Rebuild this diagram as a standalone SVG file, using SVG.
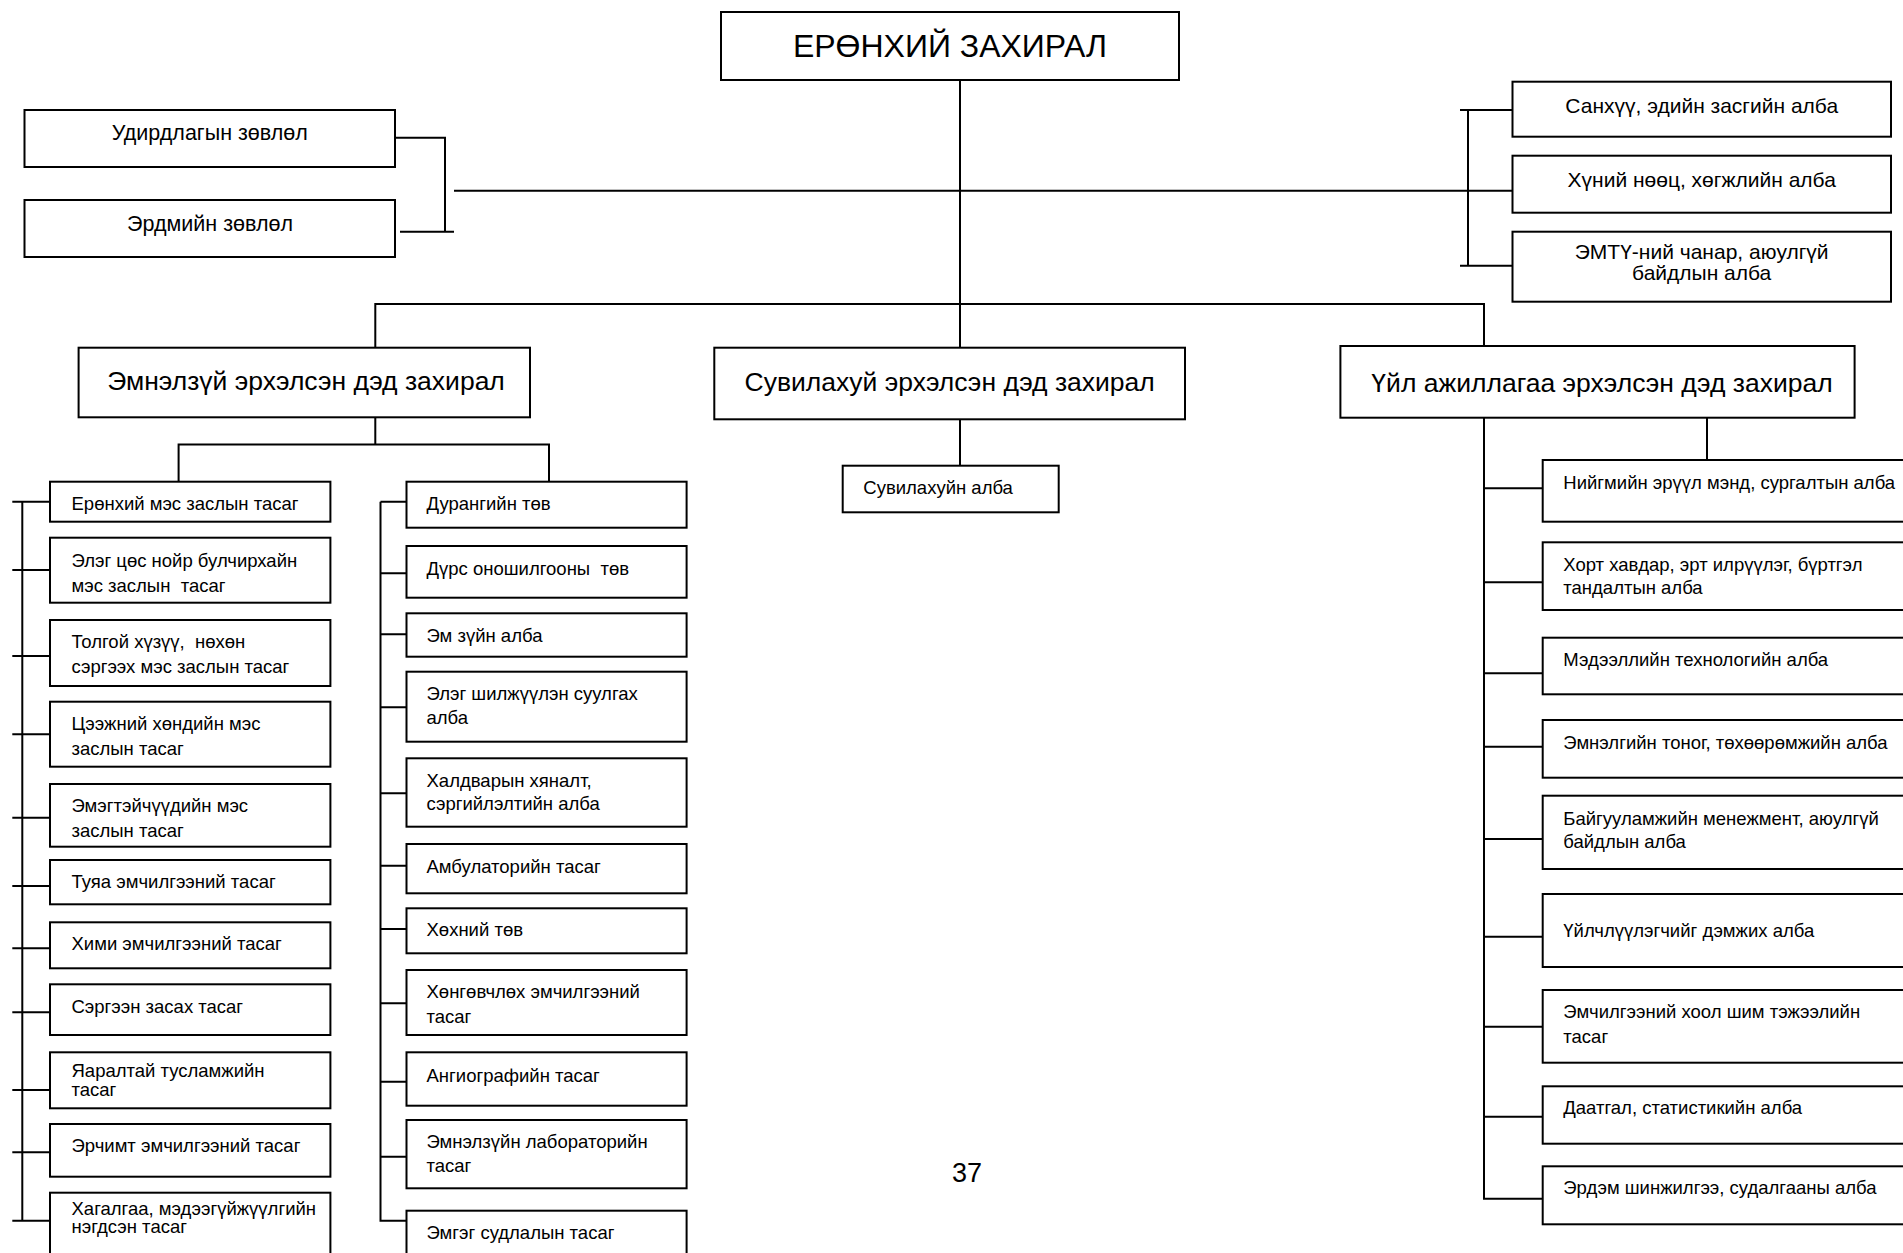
<svg xmlns="http://www.w3.org/2000/svg" width="1903" height="1253" viewBox="0 0 1903 1253">
<style>
.b{fill:#fff;stroke:#000;stroke-width:2}
.c{stroke:#000;stroke-width:2;fill:none}
text{font-family:"Liberation Sans",Arial,sans-serif;fill:#000}
.s{font-size:18.5px}
.l{font-size:21px}
.k{font-size:21.5px}
.m{font-size:26.5px}
.x{font-size:32px}
.mid{text-anchor:middle}
</style>
<rect width="1903" height="1253" fill="#fff"/>
<g id="connectors">
<path class="c" d="M960 80V347.7M375.3 304H1484M375.3 303V347.7M1484 303V346"/>
<path class="c" d="M395 137.7H445V231.7M400 231.7H454M454 190.7H1512.5"/>
<path class="c" d="M1468 110V265.7M1460 110H1512.5M1460 265.7H1512.5"/>
<path class="c" d="M375.3 417.3V444.5M178.6 444.5H549M178.6 443.5V481.7M549 443.5V481.7"/>
<path class="c" d="M22.3 501.7V1220.7M12.3 501.7H50M12.3 570H50M12.3 656H50M12.3 734.3H50M12.3 817.7H50M12.3 886H50M12.3 948.3H50M12.3 1012.3H50M12.3 1090H50M12.3 1152.3H50M12.3 1220.7H50"/>
<path class="c" d="M380.5 501.7V1220.7M380.5 501.7H406.5M380.5 573.3H406.5M380.5 634.3H406.5M380.5 707.3H406.5M380.5 793.3H406.5M380.5 865.7H406.5M380.5 929H406.5M380.5 1003.3H406.5M380.5 1081.7H406.5M380.5 1156.7H406.5M379.5 1220.7H406.5"/>
<path class="c" d="M960 419.3V465.7"/>
<path class="c" d="M1707 417.7V460M1484 417.7V1199.3M1484 488.3H1542.7M1484 582.3H1542.7M1484 673.3H1542.7M1484 746.7H1542.7M1484 839H1542.7M1484 936.7H1542.7M1484 1026.7H1542.7M1484 1116.7H1542.7M1483 1198.7H1542.7"/>
</g>
<g id="n-director"><rect class="b" x="721" y="12" width="458" height="68"/><text class="x mid" x="950" y="56.5">ЕРӨНХИЙ ЗАХИРАЛ</text></g>
<g id="n-board1"><rect class="b" x="24.5" y="110" width="370.5" height="57"/><text class="k mid" x="209.8" y="140">Удирдлагын зөвлөл</text></g>
<g id="n-board2"><rect class="b" x="24.5" y="200" width="370.5" height="57"/><text class="k mid" x="210" y="230.5">Эрдмийн зөвлөл</text></g>
<g id="n-finance"><rect class="b" x="1512.5" y="81.7" width="378.5" height="55"/><text class="l mid" x="1701.7" y="113">Санхүү, эдийн засгийн алба</text></g>
<g id="n-hr"><rect class="b" x="1512.5" y="155.7" width="378.5" height="57"/><text class="l mid" x="1701.7" y="186.5">Хүний нөөц, хөгжлийн алба</text></g>
<g id="n-quality"><rect class="b" x="1512.5" y="231.7" width="378.5" height="70"/><text class="l mid" x="1701.7" y="259">ЭМТҮ-ний чанар, аюулгүй</text><text class="l mid" x="1701.7" y="280">байдлын алба</text></g>
<g id="n-clinical"><rect class="b" x="78.6" y="347.7" width="451.4" height="69.6"/><text class="m mid" x="306" y="390">Эмнэлзүй эрхэлсэн дэд захирал</text></g>
<g id="n-nursing"><rect class="b" x="714.3" y="347.7" width="470.7" height="71.6"/><text class="m mid" x="949.7" y="390.5">Сувилахуй эрхэлсэн дэд захирал</text></g>
<g id="n-ops"><rect class="b" x="1340.4" y="346" width="514.2" height="71.7"/><text class="m mid" x="1602" y="391.5">Үйл ажиллагаа эрхэлсэн дэд захирал</text></g>
<g id="n-nursing-office"><rect class="b" x="842.7" y="465.7" width="216" height="46.6"/><text class="s" x="863.3" y="494.3">Сувилахуйн алба</text></g>
<g id="left-col">
<g id="n-l1"><rect class="b" x="50" y="481.7" width="280.4" height="40"/><text class="s" x="71.5" y="510">Ерөнхий мэс заслын тасаг</text></g>
<g id="n-l2"><rect class="b" x="50" y="537.7" width="280.4" height="65"/><text class="s" x="71.5" y="566.7">Элэг цөс нойр булчирхайн</text><text class="s" x="71.5" y="591.7" xml:space="preserve">мэс заслын  тасаг</text></g>
<g id="n-l3"><rect class="b" x="50" y="620" width="280.4" height="66"/><text class="s" x="71.5" y="648.3" xml:space="preserve">Толгой хүзүү,  нөхөн</text><text class="s" x="71.5" y="673.3">сэргээх мэс заслын тасаг</text></g>
<g id="n-l4"><rect class="b" x="50" y="701.7" width="280.4" height="65"/><text class="s" x="71.5" y="730">Цээжний хөндийн мэс</text><text class="s" x="71.5" y="755">заслын тасаг</text></g>
<g id="n-l5"><rect class="b" x="50" y="784" width="280.4" height="62.7"/><text class="s" x="71.5" y="811.7">Эмэгтэйчүүдийн мэс</text><text class="s" x="71.5" y="836.7">заслын тасаг</text></g>
<g id="n-l6"><rect class="b" x="50" y="860" width="280.4" height="44.3"/><text class="s" x="71.5" y="888.3">Туяа эмчилгээний тасаг</text></g>
<g id="n-l7"><rect class="b" x="50" y="922.3" width="280.4" height="46"/><text class="s" x="71.5" y="950">Хими эмчилгээний тасаг</text></g>
<g id="n-l8"><rect class="b" x="50" y="984.3" width="280.4" height="50.7"/><text class="s" x="71.5" y="1013.3">Сэргээн засах тасаг</text></g>
<g id="n-l9"><rect class="b" x="50" y="1052.3" width="280.4" height="56"/><text class="s" x="71.5" y="1077">Яаралтай тусламжийн</text><text class="s" x="71.5" y="1095.5">тасаг</text></g>
<g id="n-l10"><rect class="b" x="50" y="1124" width="280.4" height="52.7"/><text class="s" x="71.5" y="1151.7">Эрчимт эмчилгээний тасаг</text></g>
<g id="n-l11"><rect class="b" x="50" y="1192.7" width="280.4" height="70"/><text class="s" x="71.5" y="1214.5">Хагалгаа, мэдээгүйжүүлгийн</text><text class="s" x="71.5" y="1233">нэгдсэн тасаг</text></g>
</g>
<g id="right-col">
<g id="n-r1"><rect class="b" x="406.5" y="481.7" width="280.1" height="46"/><text class="s" x="426.5" y="510">Дурангийн төв</text></g>
<g id="n-r2"><rect class="b" x="406.5" y="546" width="280.1" height="51.7"/><text class="s" x="426.5" y="575" xml:space="preserve">Дүрс оношилгооны  төв</text></g>
<g id="n-r3"><rect class="b" x="406.5" y="613.3" width="280.1" height="43.4"/><text class="s" x="426.5" y="641.7">Эм зүйн алба</text></g>
<g id="n-r4"><rect class="b" x="406.5" y="671.7" width="280.1" height="70"/><text class="s" x="426.5" y="700">Элэг шилжүүлэн суулгах</text><text class="s" x="426.5" y="724">алба</text></g>
<g id="n-r5"><rect class="b" x="406.5" y="758.3" width="280.1" height="68.4"/><text class="s" x="426.5" y="786.7">Халдварын хяналт,</text><text class="s" x="426.5" y="810">сэргийлэлтийн алба</text></g>
<g id="n-r6"><rect class="b" x="406.5" y="844" width="280.1" height="49.3"/><text class="s" x="426.5" y="873.3">Амбулаторийн тасаг</text></g>
<g id="n-r7"><rect class="b" x="406.5" y="908.3" width="280.1" height="45"/><text class="s" x="426.5" y="936">Хөхний төв</text></g>
<g id="n-r8"><rect class="b" x="406.5" y="970" width="280.1" height="65"/><text class="s" x="426.5" y="998.3">Хөнгөвчлөх эмчилгээний</text><text class="s" x="426.5" y="1023.3">тасаг</text></g>
<g id="n-r9"><rect class="b" x="406.5" y="1052.3" width="280.1" height="53.4"/><text class="s" x="426.5" y="1081.7">Ангиографийн тасаг</text></g>
<g id="n-r10"><rect class="b" x="406.5" y="1120" width="280.1" height="68.3"/><text class="s" x="426.5" y="1148.3">Эмнэлзүйн лабораторийн</text><text class="s" x="426.5" y="1172.3">тасаг</text></g>
<g id="n-r11"><rect class="b" x="406.5" y="1210.7" width="280.1" height="60"/><text class="s" x="426.5" y="1239">Эмгэг судлалын тасаг</text></g>
</g>
<g id="ops-col">
<g id="n-o1"><rect class="b" x="1542.7" y="460" width="380" height="61.7"/><text class="s" x="1563.3" y="489">Нийгмийн эрүүл мэнд, сургалтын алба</text></g>
<g id="n-o2"><rect class="b" x="1542.7" y="542.3" width="380" height="67.7"/><text class="s" x="1563.3" y="570.7">Хорт хавдар, эрт илрүүлэг, бүртгэл</text><text class="s" x="1563.3" y="594.3">тандалтын алба</text></g>
<g id="n-o3"><rect class="b" x="1542.7" y="637.7" width="380" height="56.6"/><text class="s" x="1563.3" y="666">Мэдээллийн технологийн алба</text></g>
<g id="n-o4"><rect class="b" x="1542.7" y="720" width="380" height="57.7"/><text class="s" x="1563.3" y="749.3">Эмнэлгийн тоног, төхөөрөмжийн алба</text></g>
<g id="n-o5"><rect class="b" x="1542.7" y="795.7" width="380" height="73.3"/><text class="s" x="1563.3" y="825">Байгууламжийн менежмент, аюулгүй</text><text class="s" x="1563.3" y="848.3">байдлын алба</text></g>
<g id="n-o6"><rect class="b" x="1542.7" y="894" width="380" height="73"/><text class="s" x="1563.3" y="937.3">Үйлчлүүлэгчийг дэмжих алба</text></g>
<g id="n-o7"><rect class="b" x="1542.7" y="990" width="380" height="72.7"/><text class="s" x="1563.3" y="1018.3">Эмчилгээний хоол шим тэжээлийн</text><text class="s" x="1563.3" y="1043.3">тасаг</text></g>
<g id="n-o8"><rect class="b" x="1542.7" y="1086.3" width="380" height="57.4"/><text class="s" x="1563.3" y="1114">Даатгал, статистикийн алба</text></g>
<g id="n-o9"><rect class="b" x="1542.7" y="1166.3" width="380" height="58"/><text class="s" x="1563.3" y="1194">Эрдэм шинжилгээ, судалгааны алба</text></g>
</g>
<text x="967" y="1181.7" style="font-size:27px" class="mid">37</text>
</svg>
